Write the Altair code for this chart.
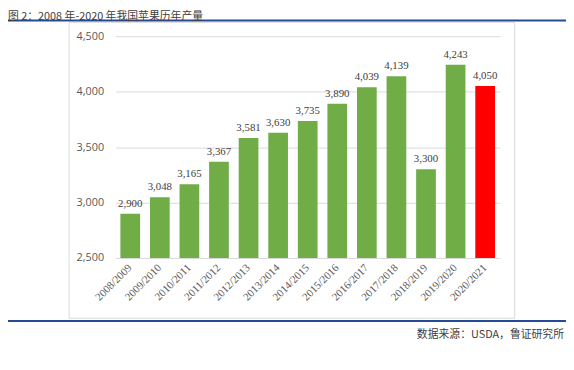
import altair as alt
import pandas as pd

years = ["2008/2009", "2009/2010", "2010/2011", "2011/2012", "2012/2013", "2013/2014",
         "2014/2015", "2015/2016", "2016/2017", "2017/2018", "2018/2019", "2019/2020", "2020/2021"]
production = [2900, 3048, 3165, 3367, 3581, 3630, 3735, 3890, 4039, 4139, 3300, 4243, 4050]
y_ticks = [2500, 3000, 3500, 4000, 4500]
title_text = "图 2：2008 年-2020 年我国苹果历年产量"
source_text = "数据来源：USDA，鲁证研究所"
highlight_year = "2020/2021"

df = pd.DataFrame({"year": years, "value": production})
one = pd.DataFrame({"a": [0]})

x_enc = alt.X("year:N", sort=years, title=None,
              scale=alt.Scale(paddingInner=1/3, paddingOuter=1/6),
              axis=alt.Axis(labelAngle=-45, labelAlign="right", labelBaseline="middle",
                            labelFont="Liberation Serif", labelFontSize=11, labelColor="#595959",
                            labelPadding=8, ticks=False, domain=False, grid=False))
y_scale = alt.Scale(domain=[2500, 4500], nice=False, zero=False)

box = alt.Chart(one).mark_rect(fillOpacity=0, stroke="#d9d9d9", strokeWidth=1).encode(
    x=alt.value(-47), x2=alt.value(405), y=alt.value(-14), y2=alt.value(286))

bars = alt.Chart(df).mark_bar(size=20).encode(
    x=x_enc,
    y=alt.Y("value:Q", scale=y_scale, title=None,
            axis=alt.Axis(values=y_ticks, format=",.0f", labelFont="Open Sans", labelFontSize=11,
                          labelColor="#595959", labelPadding=12, ticks=False, domain=False,
                          grid=True, gridColor="#d9d9d9", gridWidth=1)),
    y2=alt.datum(2500),
    color=alt.condition(alt.datum.year == highlight_year, alt.value("#FF0000"), alt.value("#70AD47")),
)

labels = alt.Chart(df).mark_text(font="Liberation Serif", fontSize=11, color="#404040",
                                 baseline="alphabetic", dy=-7).encode(
    x=alt.X("year:N", sort=years),
    y=alt.Y("value:Q", scale=y_scale),
    text=alt.Text("value:Q", format=",.0f"),
)

top_line = alt.Chart(one).mark_rule(color="#254A96", strokeWidth=2).encode(
    x=alt.value(-109), x2=alt.value(457), y=alt.value(-16))
bottom_line = alt.Chart(one).mark_rule(color="#254A96", strokeWidth=2).encode(
    x=alt.value(-109), x2=alt.value(457), y=alt.value(289))

title = alt.Chart(one).mark_text(font="Noto Sans CJK SC", fontSize=11, color="#404040",
                                 align="left", baseline="middle").encode(
    x=alt.value(-109), y=alt.value(-19), text=alt.value(title_text))
source = alt.Chart(one).mark_text(font="Noto Sans CJK SC", fontSize=11, color="#404040",
                                  align="right", baseline="middle").encode(
    x=alt.value(455), y=alt.value(303), text=alt.value(source_text))

chart = alt.layer(box, bars, labels, top_line, bottom_line, title, source).properties(
    width=390, height=225,
    padding={"left": 109, "top": 26, "right": 67, "bottom": 111},
    autosize="none",
).configure_view(stroke=None)

chart.save("out.html", embed_options={"renderer": "svg", "actions": False})
